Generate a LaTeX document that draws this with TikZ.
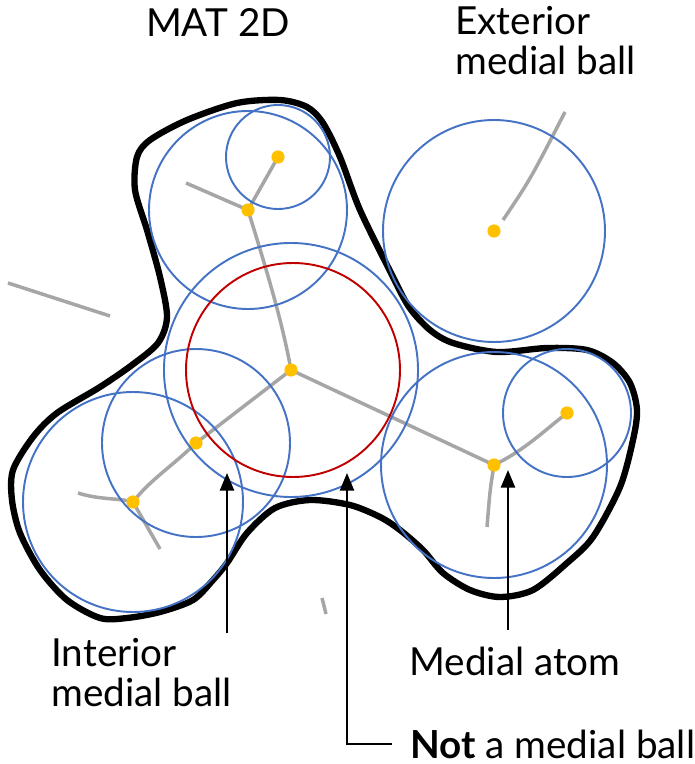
\documentclass[tikz,border=0pt]{standalone}
\usepackage{fontspec}
\setmainfont{Lato}
\usepackage{xcolor}
\usepackage{tikz}
\usetikzlibrary{arrows.meta, positioning, backgrounds}
\definecolor{ballColor}{RGB}{68, 114, 196}
\definecolor{notColor}{RGB}{192, 0, 0}
\definecolor{atomColor}{RGB}{255, 192, 0}
\definecolor{axisColor}{RGB}{166, 166, 166}

\begin{document}
\begin{tikzpicture}[x=0.02cm, y=-0.02cm,
    ball/.style={draw=ballColor, line width=1.1pt},
    notball/.style={draw=notColor, line width=1.1pt},
    atom/.style={circle, fill=atomColor, inner sep=0pt, minimum size=7.5pt},
    axis/.style={draw=axisColor, line width=2pt},
    outline/.style={draw=black, line width=3.6pt},
    pointer/.style={draw=black, line width=1.2pt, -{Triangle[length=10pt, width=8pt]}},
    label/.style={font=\fontsize{22}{23}\selectfont, inner sep=0pt, align=left}]

    \useasboundingbox (0,0) rectangle (694,764);

    % the shape
    \draw[outline] plot[smooth cycle, tension=0.5] coordinates {
        (280,100) (307,107) (323,123) (340,157) (360,210) (391,273) (409,307)
        (430,330) (453,343) (497,352) (547,348) (587,350) (613,363) (630,383)
        (637,410) (633,440) (620,487) (593,537) (567,563) (533,590) (500,597)
        (470,590) (443,573) (423,550) (400,530) (380,517) (350,505) (310,500)
        (275,508) (247,533) (227,563) (213,580) (193,600) (160,612) (127,618)
        (100,618) (67,600) (40,570) (20,533) (12,500) (13,470) (33,437)
        (57,413) (100,387) (132,365) (158,343) (167,317) (160,277) (147,230)
        (135,190) (137,157) (150,140) (187,120) (237,103)};

    % medial atoms
    \node (a1) [atom] at (278,157) {};
    \node (a2) [atom] at (248,210) {};
    \node (a3) [atom] at (494,231) {};
    \node (a4) [atom] at (291,370) {};
    \node (a5) [atom] at (196,443) {};
    \node (a6) [atom] at (133,502) {};
    \node (a7) [atom] at (494,465) {};
    \node (a8) [atom] at (567,413) {};

    % medial balls
    \draw[ball] (a1) circle (52);
    \draw[ball] (a2) circle (99);
    \draw[ball] (a3) circle (111);
    \draw[ball] (a4) circle (127);
    \draw[ball] (a5) circle (94);
    \draw[ball] (a6) circle (110);
    \draw[ball] (a7) circle (113);
    \draw[ball] (a8) circle (64);
    \draw[notball] (293,370) circle (107);

    % medial axis
    \coordinate (e1) at (186,183);
    \coordinate (e2) at (78,493);
    \coordinate (e3) at (160,549);
    \coordinate (e4) at (487,527);
    \coordinate (e5) at (565,112);
    \coordinate (e6) at (503,220);
    \begin{scope}[on background layer]
    \draw[axis] (e1) -- (a2.center) -- (a1.center);
    \draw[axis] (a2.center) .. controls (265,265) and (282,320) .. (a4.center);
    \draw[axis] (a4.center) -- (a5.center);
    \draw[axis] (a5.center) .. controls (170,468) and (150,480) .. (a6.center);
    \draw[axis] (e2) .. controls (100,500) and (120,498) .. (a6.center);
    \draw[axis] (a6.center) -- (e3);
    \draw[axis] (a4.center) -- (a7.center);
    \draw[axis] (a7.center) .. controls (525,450) and (545,430) .. (a8.center);
    \draw[axis] (a7.center) .. controls (490,490) .. (e4);
    \draw[axis] (e6) .. controls (530,180) .. (e5);
    \draw[axis] (8,283) -- (110,316);
    \draw[axis] (322,598) -- (326,614);
    \end{scope}

    % labels
    \node (mat) [label, anchor=center] at (218,22) {MAT 2D};
    \node (ext) [label, anchor=north west] at (455,6) {Exterior\\medial ball};
    \node (int) [label, anchor=north west] at (51,638) {Interior\\medial ball};
    \node (atm) [label, anchor=north west] at (409,647) {Medial atom};
    \node (not) [label, anchor=west] at (410,744) {\textbf{Not} a medial ball};

    % pointers
    \coordinate (p1) at (227,633);
    \coordinate (q1) at (227,473);
    \coordinate (p2) at (347,744);
    \coordinate (q2) at (347,473);
    \coordinate (p3) at (508,630);
    \coordinate (q3) at (508,470);
    \draw[pointer] (p1) -- (q1);
    \draw[pointer] ([xshift=-10pt]not.west) -- (p2) -- (q2);
    \draw[pointer] (p3) -- (q3);

\end{tikzpicture}
\end{document}
